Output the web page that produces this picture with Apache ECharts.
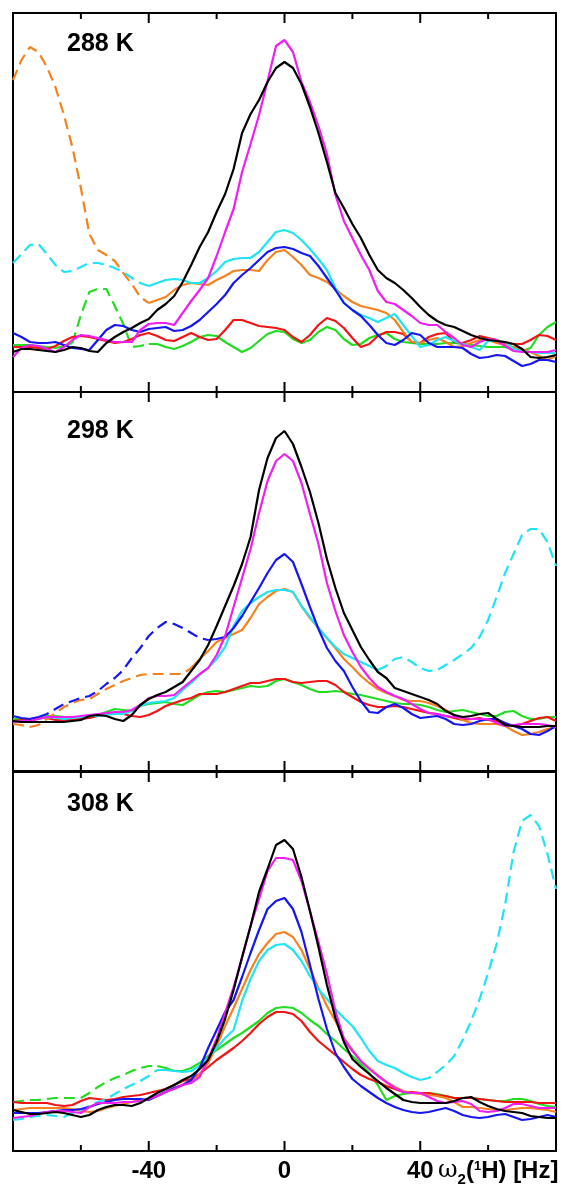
<!DOCTYPE html>
<html>
<head>
<meta charset="utf-8">
<script src="https://cdn.jsdelivr.net/npm/echarts@6/dist/echarts.min.js"></script>
<style>
  html, body { margin: 0; padding: 0; background: #fff; }
  #chart { width: 566px; height: 1187px; }
</style>
</head>
<body>
<div id="chart"></div>
<script>
// sample points along ω2 (Hz)
const freqHz = [-80, -77.5, -75, -72.5, -70, -67.5, -65, -62.5, -60, -57.5,
  -55, -52.5, -50, -47.5, -45, -42.5, -40, -37.5, -35, -32.5,
  -30, -27.5, -25, -22.5, -20, -17.5, -15, -12.5, -10, -7.5,
  -5, -2.5, 0, 2.5, 5, 7.5, 10, 12.5, 15, 17.5,
  20, 22.5, 25, 27.5, 30, 32.5, 35, 37.5, 40, 42.5,
  45, 47.5, 50, 52.5, 55, 57.5, 60, 62.5, 65, 67.5,
  70, 72.5, 75, 77.5, 80]
const xTickLabels = [-40, 0, 40]
const majorTicks = [-40, 0, 40]
const minorTicks = [-60, -20, 20, 60]
const panelLabels = ['288 K', '298 K', '308 K']

// 288 K
const black288 = [40, 43, 43, 42, 41, 40, 42, 45, 44, 41, 40, 49, 55, 60, 64, 69, 73, 82, 88, 96, 110, 127, 145, 160, 180, 198, 223, 259, 278, 292, 310, 324, 330, 324, 308, 285, 259, 230, 199, 184, 168, 154, 137, 122, 114, 109, 102, 94, 85, 77, 71, 67, 65, 61, 57, 54, 52, 51, 50, 48, 43, 35, 34, 35, 37]
const magenta288 = [35, 44, 47, 46, 43, 40, 45, 52, 57, 56, 54, 52, 50, 50, 50, 62, 68, 69, 69, 67, 79, 91, 102, 114, 136, 160, 183, 220, 248, 277, 311, 346, 352, 340, 310, 290, 266, 238, 197, 171, 154, 137, 122, 101, 90, 88, 82, 76, 69, 67, 67, 60, 54, 47, 45, 50, 53, 52, 46, 41, 40, 40, 40, 40, 42]
const cyan288 = [129, 138, 147, 148, 138, 127, 120, 121, 125, 129, 129, 127, 124, 120, 114, 109, 106, 109, 112, 113, 112, 109, 109, 114, 121, 130, 133, 134, 134, 140, 150, 160, 162, 159, 152, 143, 133, 122, 104, 89, 82, 77, 74, 70, 74, 78, 67, 56, 45, 47, 52, 55, 51, 48, 45, 42, 51, 51, 50, 43, 41, 40, 39, 39, 39]
const blue288 = [59, 55, 50, 49, 49, 50, 47, 44, 43, 42, 52, 62, 67, 66, 62, 60, 63, 64, 65, 61, 62, 66, 72, 80, 88, 97, 109, 117, 124, 132, 140, 144, 145, 143, 139, 136, 126, 114, 102, 89, 82, 76, 67, 57, 49, 47, 52, 59, 57, 49, 45, 45, 45, 44, 38, 34, 35, 37, 36, 31, 26, 28, 32, 32, 30]
const orange288 = [312, 332, 345, 340, 325, 305, 277, 245, 204, 158, 142, 137, 131, 119, 108, 95, 89, 92, 95, 102, 107, 109, 108, 107, 112, 116, 121, 122, 122, 121, 132, 140, 142, 135, 127, 117, 114, 110, 103, 96, 90, 86, 84, 82, 79, 72, 60, 50, 49, 52, 54, 50, 45, 46, 49, 52, 52, 49, 47, 45, 43, 40, 36, 32, 36]
const red288 = [45, 45, 45, 44, 43, 46, 51, 55, 56, 55, 53, 51, 49, 50, 53, 57, 59, 56, 52, 51, 55, 59, 55, 52, 53, 62, 72, 72, 69, 66, 65, 64, 62, 55, 50, 57, 67, 74, 71, 64, 54, 45, 48, 56, 60, 60, 58, 50, 49, 55, 58, 59, 50, 49, 52, 56, 54, 52, 49, 48, 48, 52, 57, 56, 52]
const green288 = [47, 47, 47, 46, 45, 44, 46, 49, 77, 100, 103, 103, 86, 68, 45, 46, 48, 48, 45, 43, 46, 50, 55, 57, 56, 50, 45, 40, 44, 51, 58, 61, 60, 53, 49, 52, 60, 65, 62, 53, 47, 48, 54, 57, 59, 53, 50, 49, 48, 48, 48, 49, 49, 48, 47, 46, 45, 45, 45, 43, 41, 44, 57, 65, 70]
const dashed288 = { orange: [[-80, -40]], cyan: [[-80, -40]], green: [[-62.5, -40]] }

// 298 K
const black298 = [50, 49, 49, 49, 49, 49, 49, 50, 51, 55, 56, 55, 52, 50, 56, 66, 72, 76, 79, 84, 89, 100, 111, 126, 145, 165, 185, 207, 234, 281, 313, 333, 340, 327, 304, 279, 248, 212, 183, 158, 141, 124, 111, 99, 93, 83, 80, 77, 74, 71, 67, 60, 56, 54, 55, 57, 58, 52, 46, 45, 44, 44, 44, 45, 45]
const magenta298 = [49, 50, 50, 52, 54, 54, 54, 54, 55, 56, 57, 58, 59, 59, 61, 66, 73, 75, 75, 76, 83, 90, 97, 103, 116, 135, 164, 193, 222, 258, 290, 310, 317, 310, 288, 257, 227, 188, 160, 136, 119, 104, 93, 84, 79, 75, 72, 67, 62, 58, 57, 55, 54, 53, 52, 52, 52, 48, 45, 46, 47, 47, 47, 46, 44]
const cyan298 = [49, 50, 50, 52, 54, 53, 52, 53, 54, 55, 55, 56, 57, 57, 60, 65, 68, 69, 70, 73, 81, 88, 96, 103, 112, 124, 145, 160, 168, 174, 179, 181, 181, 179, 165, 154, 143, 133, 124, 117, 113, 109, 105, 101, 105, 112, 114, 109, 103, 100, 101, 106, 111, 117, 123, 134, 151, 174, 198, 217, 236, 242, 242, 229, 205]
const blue298 = [55, 53, 52, 54, 57, 62, 67, 70, 73, 75, 80, 87, 93, 101, 113, 123, 135, 143, 149, 147, 143, 138, 133, 131, 132, 134, 143, 155, 169, 183, 198, 211, 217, 209, 187, 164, 142, 123, 110, 100, 84, 70, 59, 58, 64, 67, 63, 57, 53, 54, 55, 52, 47, 46, 47, 50, 52, 52, 48, 45, 42, 37, 36, 40, 45]
const orange298 = [47, 46, 44, 46, 52, 58, 64, 68, 71, 72, 77, 82, 86, 90, 93, 96, 97, 97, 97, 97, 97, 103, 112, 120, 129, 133, 137, 141, 153, 167, 174, 180, 182, 179, 165, 153, 143, 133, 123, 112, 104, 95, 88, 82, 78, 75, 71, 70, 70, 68, 65, 61, 56, 51, 48, 47, 47, 47, 45, 40, 36, 37, 39, 42, 44]
const red298 = [50, 51, 52, 53, 53, 51, 51, 51, 52, 53, 55, 57, 58, 57, 55, 54, 56, 60, 65, 68, 71, 73, 77, 77, 77, 79, 82, 85, 88, 88, 90, 92, 92, 89, 88, 89, 90, 90, 86, 79, 74, 69, 66, 64, 64, 65, 64, 62, 60, 58, 57, 55, 53, 51, 52, 53, 51, 50, 47, 45, 47, 50, 53, 54, 50]
const green298 = [52, 52, 52, 53, 55, 55, 54, 54, 53, 53, 56, 59, 62, 61, 60, 65, 67, 68, 69, 67, 66, 71, 76, 79, 80, 79, 81, 83, 85, 84, 85, 90, 92, 89, 86, 82, 79, 79, 80, 79, 77, 76, 74, 72, 70, 68, 67, 67, 66, 64, 61, 59, 60, 61, 59, 57, 55, 55, 59, 60, 55, 52, 52, 54, 54]
const dashed298 = { blue: [[-72.5, -22.5]], orange: [[-80, -27.5]], cyan: [[27.5, 80]] }

// 308 K
const black308 = [41, 39, 37, 37, 38, 39, 38, 36, 34, 36, 41, 44, 46, 46, 45, 48, 53, 58, 62, 66, 71, 75, 82, 91, 109, 132, 161, 194, 225, 259, 282, 306, 311, 302, 274, 240, 204, 166, 133, 109, 92, 84, 77, 70, 63, 57, 51, 49, 48, 48, 48, 48, 50, 53, 54, 49, 45, 42, 40, 39, 38, 35, 34, 33, 33]
const magenta308 = [33, 34, 35, 37, 39, 40, 40, 39, 38, 44, 48, 48, 48, 49, 49, 50, 52, 55, 59, 62, 66, 68, 74, 92, 112, 138, 164, 193, 225, 252, 280, 293, 293, 291, 270, 240, 209, 177, 140, 112, 100, 90, 82, 75, 69, 63, 59, 58, 58, 54, 50, 48, 49, 50, 47, 40, 39, 40, 43, 47, 47, 45, 43, 43, 43]
const cyan308 = [31, 32, 34, 35, 36, 35, 34, 38, 41, 45, 49, 52, 57, 62, 66, 70, 75, 81, 81, 80, 79, 80, 85, 93, 103, 113, 121, 150, 172, 190, 201, 206, 207, 201, 190, 175, 162, 152, 142, 133, 125, 113, 100, 90, 86, 83, 78, 74, 71, 73, 79, 86, 95, 111, 130, 152, 178, 207, 246, 299, 330, 336, 325, 297, 262]
const blue308 = [38, 38, 38, 38, 39, 40, 41, 41, 42, 44, 47, 49, 51, 52, 52, 52, 51, 55, 59, 63, 66, 71, 83, 103, 121, 139, 151, 174, 198, 221, 242, 250, 253, 242, 219, 186, 152, 122, 98, 84, 72, 65, 59, 53, 48, 44, 41, 39, 38, 39, 41, 43, 40, 36, 34, 33, 34, 36, 37, 34, 31, 32, 34, 36, 34]
const orange308 = [41, 42, 43, 43, 43, 43, 43, 42, 40, 39, 40, 43, 45, 47, 49, 51, 52, 55, 59, 63, 66, 70, 77, 88, 105, 125, 143, 162, 181, 197, 208, 217, 219, 214, 201, 182, 163, 145, 130, 113, 101, 90, 83, 76, 69, 64, 60, 58, 57, 56, 55, 53, 49, 44, 44, 43, 42, 41, 41, 42, 43, 43, 42, 41, 39]
const red308 = [49, 48, 48, 48, 48, 46, 45, 46, 50, 53, 52, 51, 52, 54, 55, 56, 58, 60, 62, 66, 70, 72, 77, 84, 91, 97, 103, 110, 118, 127, 134, 139, 139, 137, 130, 119, 110, 103, 96, 89, 82, 76, 72, 69, 65, 62, 59, 59, 58, 58, 56, 55, 53, 53, 53, 52, 51, 50, 49, 49, 49, 49, 48, 48, 48]
const green308 = [49, 50, 51, 51, 52, 53, 53, 53, 53, 58, 64, 69, 73, 76, 80, 83, 85, 85, 83, 80, 80, 83, 88, 95, 101, 107, 113, 118, 124, 130, 138, 143, 144, 143, 138, 131, 125, 117, 110, 102, 95, 87, 78, 66, 51, 55, 57, 58, 58, 58, 57, 55, 53, 53, 53, 52, 51, 50, 50, 52, 52, 50, 47, 45, 44]
const dashed308 = { green: [[-80, -37.5]], cyan: [[-80, -37.5], [40, 80]] }

const colors = {
  green: '#22dc22',
  red: '#f21414',
  orange: '#f5821e',
  cyan: '#1ee4f4',
  blue: '#1616f2',
  magenta: '#f01ef0',
  black: '#000000',
}
const traceOrder = ['green', 'red', 'orange', 'cyan', 'blue', 'magenta', 'black']

const panels = [
  { traces: { black: black288, magenta: magenta288, cyan: cyan288, blue: blue288, orange: orange288, red: red288, green: green288 }, dashed: dashed288 },
  { traces: { black: black298, magenta: magenta298, cyan: cyan298, blue: blue298, orange: orange298, red: red298, green: green298 }, dashed: dashed298 },
  { traces: { black: black308, magenta: magenta308, cyan: cyan308, blue: blue308, orange: orange308, red: red308, green: green308 }, dashed: dashed308 },
]

const gridTops = [13, 392, 772]
const panelHeight = 379
const labelY = [44, 431, 804]

const chart = echarts.init(document.getElementById('chart'))

const grid = []
const xAxis = []
const yAxis = []
const series = []

panels.forEach((panel, p) => {
  grid.push({
    left: 13,
    right: 10,
    top: gridTops[p],
    height: panelHeight,
    show: true,
    borderColor: '#000',
    borderWidth: 2,
  })
  xAxis.push({
    type: 'value',
    gridIndex: p,
    min: -80,
    max: 80,
    interval: 40,
    axisLine: { show: false, onZero: false },
    axisTick: { show: false },
    splitLine: { show: false },
    axisLabel: {
      show: p === 2,
      margin: 8,
      color: '#000',
      fontSize: 24,
      fontWeight: 'bold',
      fontFamily: 'Liberation Sans',
      formatter: v => (xTickLabels.includes(v) ? String(v) : ''),
    },
  })
  yAxis.push({ type: 'value', gridIndex: p, min: 0, max: panelHeight, show: false })

  traceOrder.forEach((name) => {
    const vals = panel.traces[name]
    const ranges = panel.dashed[name] || []
    const inside = x => ranges.some(([a, b]) => x > a && x < b)
    const within = x => ranges.some(([a, b]) => x >= a && x <= b)
    const common = {
      type: 'line',
      xAxisIndex: p,
      yAxisIndex: p,
      showSymbol: false,
      symbol: 'none',
      animation: false,
      connectNulls: false,
    }
    series.push({
      ...common,
      name: name + p,
      data: freqHz.map((x, i) => [x, inside(x) ? null : vals[i]]),
      lineStyle: { color: colors[name], width: 2.2 },
    })
    if (ranges.length) {
      series.push({
        ...common,
        name: name + p + 'dash',
        data: freqHz.map((x, i) => [x, within(x) ? vals[i] : null]),
        lineStyle: { color: colors[name], width: 2.2, type: [11, 6] },
      })
    }
  })
})

const graphic = panelLabels.map((t, i) => ({
  type: 'text',
  x: 67,
  y: labelY[i],
  style: {
    text: t,
    fill: '#000',
    font: 'bold 25px "Liberation Sans"',
    verticalAlign: 'middle',
  },
}))

graphic.push({
  type: 'text',
  x: 438,
  y: 1171,
  style: {
    text: '{w|ω}{sub|2}{n|(}{sup|1}{n|H) [Hz]}',
    verticalAlign: 'middle',
    fill: '#000',
    rich: {
      w: { fontSize: 24, fontFamily: 'DejaVu Serif', fill: '#000' },
      n: { fontSize: 24, fontWeight: 'bold', fontFamily: 'Liberation Sans', fill: '#000' },
      sub: { fontSize: 15, fontWeight: 'bold', fontFamily: 'Liberation Sans', fill: '#000', padding: [18, 0, 0, 0] },
      sup: { fontSize: 13, fontWeight: 'bold', fontFamily: 'Liberation Sans', fill: '#000', padding: [0, 0, 9, 0] },
    },
  },
})

chart.setOption({
  animation: false,
  grid,
  xAxis,
  yAxis,
  series,
})

// inward ticks on top and bottom frame edges, placed through each panel's scale
const tickLines = []
panels.forEach((panel, p) => {
  const addTick = (v, len) => {
    const [x, yBottom] = chart.convertToPixel({ gridIndex: p }, [v, 0])
    const [, yTop] = chart.convertToPixel({ gridIndex: p }, [v, panelHeight])
    tickLines.push({ type: 'line', shape: { x1: x, y1: yBottom, x2: x, y2: yBottom - len }, style: { stroke: '#000', lineWidth: 2 } })
    tickLines.push({ type: 'line', shape: { x1: x, y1: yTop, x2: x, y2: yTop + len }, style: { stroke: '#000', lineWidth: 2 } })
  }
  majorTicks.forEach(v => addTick(v, 10))
  minorTicks.forEach(v => addTick(v, 6))
})

chart.setOption({ graphic: graphic.concat(tickLines) })
</script>
</body>
</html>
